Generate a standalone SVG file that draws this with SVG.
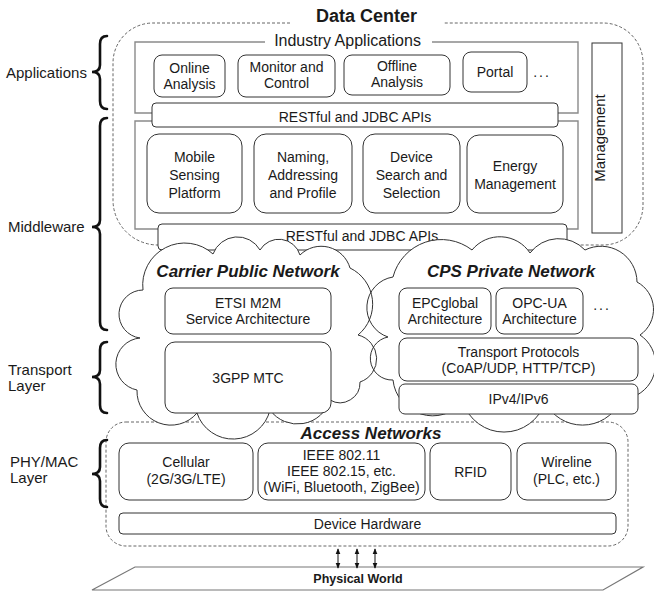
<svg xmlns="http://www.w3.org/2000/svg" width="654" height="592" viewBox="0 0 654 592">
  <style>
    text { font-family: "Liberation Sans", Arial, sans-serif; fill: #1a1a1a; }
    .lbl { font-size: 15px; }
    .t { font-size: 14px; text-anchor: middle; }
    .title { font-size: 17px; font-weight: bold; font-style: italic; text-anchor: middle; }
    .box { fill: #fff; stroke: #333; stroke-width: 1; }
    .dash { fill: none; stroke: #666; stroke-width: 1; stroke-dasharray: 3 2; }
    .frame { fill: none; stroke: #8a8a8a; stroke-width: 1.4; }
    .brace { fill: none; stroke: #111; stroke-width: 2.6; stroke-linecap: round; }
    .cloudfill { fill: #fff; stroke: none; }
    .cloudline { fill: none; stroke: #333; stroke-width: 1; }
    .arrow { stroke: #111; stroke-width: 1; marker-start: url(#ah); marker-end: url(#ah); }
  </style>
  <defs>
    <marker id="ah" viewBox="0 0 8 8" refX="7" refY="4" markerWidth="6" markerHeight="6" orient="auto-start-reverse" markerUnits="userSpaceOnUse">
      <path d="M0,0.8 L8,4 L0,7.2 Z" fill="#111"/>
    </marker>
    <path id="carrier" d="M143 290 A42 42 0 0 1 213 254 A26 26 0 0 1 260 250 A22 22 0 0 1 300 255 A30 30 0 0 1 350 268 A40 40 0 0 1 358 335 A24.5 24.5 0 0 1 360 382 A20 20 0 0 1 330 400 A34 34 0 0 1 270 410 A38 38 0 0 1 197 413 A34 34 0 0 1 137 390 A26.3 26.3 0 0 1 140 338 A24.1 24.1 0 0 1 143 290 Z"/>
    <path id="cps" d="M393 277 A50 50 0 0 1 472 250 A36 36 0 0 1 530 253 A36 36 0 0 1 585 250 A36 36 0 0 1 637 282 A31 31 0 0 1 640 335 A35 35 0 0 1 637 395 A15 15 0 0 1 620 402 A42 42 0 0 1 545 402 A43 43 0 0 1 463 402 A40 40 0 0 1 393 380 A21.7 21.7 0 0 1 388 337 A31 31 0 0 1 393 277 Z"/>
  </defs>

  <!-- Data center enclosure -->
  <g id="data-center">
    <path class="dash" d="M290 23 H153 A40 40 0 0 0 113 63 V200 A45 45 0 0 0 158 245 H603 A40 40 0 0 0 643 205 V63 A40 40 0 0 0 603 23 H443"/>
    <text x="366.5" y="22" font-size="18" font-weight="bold" text-anchor="middle">Data Center</text>
  </g>

  <!-- Layer frames around the application and middleware tiers -->
  <g id="tier-frames">
    <path class="frame" d="M265 42 H135 V113 H152 M432 42 H578 V113 H558"/>
    <path class="frame" d="M152 121 H135 V229 H158 M558 121 H578 V229 H567"/>
    <text x="347.5" y="46" font-size="16" text-anchor="middle">Industry Applications</text>
  </g>

  <g id="online-analysis">
    <rect class="box" x="154" y="55" width="71" height="42" rx="8"/>
    <text class="t" x="189.5" y="73">Online<tspan x="189.5" dy="16">Analysis</tspan></text>
  </g>
  <g id="monitor-control">
    <rect class="box" x="238" y="55" width="97" height="42" rx="8"/>
    <text class="t" x="286.5" y="72">Monitor and<tspan x="286.5" dy="16">Control</tspan></text>
  </g>
  <g id="offline-analysis">
    <rect class="box" x="344" y="55" width="106" height="40" rx="8"/>
    <text class="t" x="397" y="71">Offline<tspan x="397" dy="16">Analysis</tspan></text>
  </g>
  <g id="portal">
    <rect class="box" x="463" y="52" width="64" height="40" rx="8"/>
    <text class="t" x="495" y="77">Portal</text>
    <text class="t" x="542" y="77" letter-spacing="2">...</text>
  </g>

  <g id="api-upper">
    <rect class="box" x="152" y="103" width="406" height="24" rx="4"/>
    <text class="t" x="355" y="122">RESTful and JDBC APIs</text>
  </g>

  <g id="mobile-sensing">
    <rect class="box" x="147" y="134" width="95" height="79" rx="12"/>
    <text class="t" x="194.5" y="162">Mobile<tspan x="194.5" dy="18">Sensing</tspan><tspan x="194.5" dy="18">Platform</tspan></text>
  </g>
  <g id="naming">
    <rect class="box" x="254" y="134" width="98" height="79" rx="12"/>
    <text class="t" x="303" y="162">Naming,<tspan x="303" dy="18">Addressing</tspan><tspan x="303" dy="18">and Profile</tspan></text>
  </g>
  <g id="device-search">
    <rect class="box" x="363" y="134" width="97" height="79" rx="12"/>
    <text class="t" x="411.5" y="162">Device<tspan x="411.5" dy="18">Search and</tspan><tspan x="411.5" dy="18">Selection</tspan></text>
  </g>
  <g id="energy">
    <rect class="box" x="467" y="135" width="96" height="78" rx="12"/>
    <text class="t" x="515" y="171">Energy<tspan x="515" dy="18">Management</tspan></text>
  </g>

  <g id="management">
    <rect class="box" x="592" y="43" width="30" height="190"/>
    <text x="605" y="138" font-size="15" text-anchor="middle" transform="rotate(-90 605 138)">Management</text>
  </g>

  <g id="api-lower">
    <rect class="box" x="158" y="224" width="409" height="26" rx="4"/>
    <text class="t" x="362" y="241">RESTful and JDBC APIs</text>
  </g>

  <!-- Access networks enclosure -->
  <g id="access-frame">
    <rect class="dash" x="106" y="422" width="522" height="124" rx="20"/>
  </g>

  <!-- Network clouds -->
  <g id="clouds">
    <use href="#carrier" class="cloudfill"/>
    <use href="#cps" class="cloudfill"/>
    <use href="#carrier" class="cloudline"/>
    <use href="#cps" class="cloudline"/>
  </g>

  <g id="carrier-network">
    <text class="title" x="248" y="277">Carrier Public Network</text>
  </g>
  <g id="etsi-m2m">
    <rect class="box" x="165" y="288" width="166" height="46" rx="8"/>
    <text class="t" x="248" y="308">ETSI M2M<tspan x="248" dy="16">Service Architecture</tspan></text>
  </g>
  <g id="gpp-mtc">
    <rect class="box" x="165" y="342" width="166" height="71" rx="10"/>
    <text class="t" x="248" y="383">3GPP MTC</text>
  </g>

  <g id="cps-network">
    <text class="title" x="511" y="277">CPS Private Network</text>
  </g>
  <g id="epcglobal">
    <rect class="box" x="399" y="288" width="92" height="46" rx="8"/>
    <text class="t" x="445" y="308">EPCglobal<tspan x="445" dy="16">Architecture</tspan></text>
  </g>
  <g id="opc-ua">
    <rect class="box" x="496" y="288" width="87" height="46" rx="8"/>
    <text class="t" x="539.5" y="308">OPC-UA<tspan x="539.5" dy="16">Architecture</tspan></text>
    <text class="t" x="602" y="310" letter-spacing="2">...</text>
  </g>
  <g id="transport-protocols">
    <rect class="box" x="399" y="338" width="239" height="43" rx="8"/>
    <text class="t" x="518.5" y="357">Transport Protocols<tspan x="518.5" dy="16">(CoAP/UDP, HTTP/TCP)</tspan></text>
  </g>
  <g id="ip">
    <rect class="box" x="399" y="384" width="239" height="30" rx="6"/>
    <text class="t" x="518.5" y="404">IPv4/IPv6</text>
  </g>

  <g id="access-networks">
    <text class="title" x="371" y="439">Access Networks</text>
  </g>
  <g id="cellular">
    <rect class="box" x="119" y="443" width="134" height="57" rx="10"/>
    <text class="t" x="186" y="467">Cellular<tspan x="186" dy="17">(2G/3G/LTE)</tspan></text>
  </g>
  <g id="ieee">
    <rect class="box" x="258" y="443" width="167" height="57" rx="10"/>
    <text class="t" x="341.5" y="460">IEEE 802.11<tspan x="341.5" dy="16">IEEE 802.15, etc.</tspan><tspan x="341.5" dy="16">(WiFi, Bluetooth, ZigBee)</tspan></text>
  </g>
  <g id="rfid">
    <rect class="box" x="430" y="443" width="81" height="57" rx="10"/>
    <text class="t" x="470.5" y="477">RFID</text>
  </g>
  <g id="wireline">
    <rect class="box" x="517" y="443" width="99" height="57" rx="10"/>
    <text class="t" x="566.5" y="467">Wireline<tspan x="566.5" dy="17">(PLC, etc.)</tspan></text>
  </g>
  <g id="device-hardware">
    <rect class="box" x="119" y="513" width="497" height="21" rx="4"/>
    <text class="t" x="367.5" y="529">Device Hardware</text>
  </g>

  <g id="physical-world">
    <polygon points="135,567 643,567 603,590 92,590" fill="#fff" stroke="#777" stroke-width="1.2"/>
    <text x="358" y="583" font-size="12.5" font-weight="bold" text-anchor="middle">Physical World</text>
  </g>

  <g id="connectors">
    <line class="arrow" x1="338" y1="549" x2="338" y2="568"/>
    <line class="arrow" x1="357" y1="549" x2="357" y2="568"/>
    <line class="arrow" x1="375" y1="549" x2="375" y2="568"/>
  </g>

  <!-- Layer labels with braces -->
  <g id="layer-applications">
    <text class="lbl" x="6" y="78">Applications</text>
    <path class="brace" d="M107 36 Q100 36 100 44 V65 Q100 72 92 72 Q100 72 100 79 V101 Q100 109 107 109"/>
  </g>
  <g id="layer-middleware">
    <text class="lbl" x="8" y="232">Middleware</text>
    <path class="brace" d="M107 118 Q100 118 100 126 V220 Q100 227 92 227 Q100 227 100 234 V322 Q100 330 107 330"/>
  </g>
  <g id="layer-transport">
    <text class="lbl" x="8" y="375">Transport<tspan x="8" dy="16">Layer</tspan></text>
    <path class="brace" d="M107 342 Q100 342 100 350 V370 Q100 377 92 377 Q100 377 100 384 V405 Q100 413 107 413"/>
  </g>
  <g id="layer-phymac">
    <text class="lbl" x="10" y="467">PHY/MAC<tspan x="10" dy="16">Layer</tspan></text>
    <path class="brace" d="M107 440 Q100 440 100 448 V467 Q100 474 92 474 Q100 474 100 481 V499 Q100 507 107 507"/>
  </g>
</svg>
